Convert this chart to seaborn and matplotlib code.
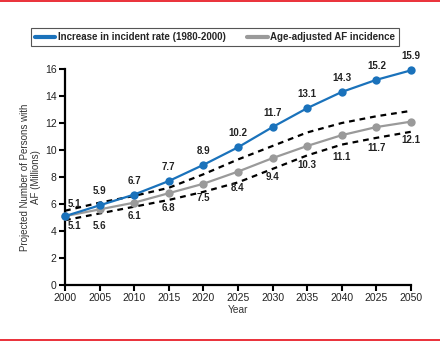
import matplotlib
matplotlib.use("Agg")
import matplotlib.pyplot as plt
from matplotlib.lines import Line2D
import seaborn as sns
import pandas as pd

years = [2000, 2005, 2010, 2015, 2020, 2025, 2030, 2035, 2040, 2045, 2050]
tick_labels = ["2000", "2005", "2010", "2015", "2020", "2025", "2030",
               "2035", "2040", "2025", "2050"]
increase_rate = [5.1, 5.9, 6.7, 7.7, 8.9, 10.2, 11.7, 13.1, 14.3, 15.2, 15.9]
age_adjusted = [5.1, 5.6, 6.1, 6.8, 7.5, 8.4, 9.4, 10.3, 11.1, 11.7, 12.1]
upper_bound = [5.5, 6.1, 6.6, 7.2, 8.2, 9.3, 10.3, 11.3, 12.0, 12.5, 12.9]
lower_bound = [4.8, 5.3, 5.8, 6.3, 6.9, 7.6, 8.6, 9.6, 10.4, 10.9, 11.35]

blue = "#1a72bb"
gray = "#9a9a9a"

sns.set_theme(style="white")
plt.rcParams["font.family"] = ["Liberation Sans", "DejaVu Sans"]

fig = plt.figure(figsize=(4.4, 3.41), dpi=100)
ax = fig.add_axes([65 / 440, 1 - 285 / 341, (411 - 65) / 440, (285 - 69) / 341])

df_b = pd.DataFrame({"Year": years, "v": upper_bound})
df_l = pd.DataFrame({"Year": years, "v": lower_bound})
for d in (df_b, df_l):
    sns.lineplot(data=d, x="Year", y="v", ax=ax, color="black", lw=1.6,
                 linestyle=(0, (2.6, 2.2)), zorder=2)

df_g = pd.DataFrame({"Year": years, "v": age_adjusted})
sns.lineplot(data=df_g, x="Year", y="v", ax=ax, color=gray, lw=1.6,
             marker="o", markersize=6, markeredgewidth=0, zorder=3, clip_on=False)
df_i = pd.DataFrame({"Year": years, "v": increase_rate})
sns.lineplot(data=df_i, x="Year", y="v", ax=ax, color=blue, lw=1.6,
             marker="o", markersize=6, markeredgewidth=0, zorder=4, clip_on=False)

ax.set_xlim(2000, 2050)
ax.set_ylim(0, 16)
ax.set_xticks(years)
ax.set_xticklabels(tick_labels)
ax.set_yticks(range(0, 17, 2))
ax.tick_params(axis="both", direction="out", length=4, width=1.5, colors="black",
               labelsize=7.5, pad=2, labelcolor="#222222")
ax.tick_params(axis="both", bottom=True, left=True)
for s in ("top", "right"):
    ax.spines[s].set_visible(False)
for s in ("left", "bottom"):
    ax.spines[s].set_color("black")
    ax.spines[s].set_linewidth(1.6)

ax.set_xlabel("Year", fontsize=7.3, color="#333333", labelpad=1)
ax.set_ylabel("Projected Number of Persons with\nAF (Millions)", fontsize=7,
              color="#333333", labelpad=3, linespacing=1.15)

# blue labels above
for i, (x, y) in enumerate(zip(years, increase_rate)):
    if i == 0:
        ax.annotate(f"{y}", (x, y), xytext=(2, 9), textcoords="offset points",
                    ha="left", va="center", fontsize=7, fontweight="bold", color="#222222")
    else:
        ax.annotate(f"{y}", (x, y), xytext=(0, 10), textcoords="offset points",
                    ha="center", va="center", fontsize=7, fontweight="bold", color="#222222")

gray_offsets = [-7, -12, -9.5, -11, -10, -11.5, -13.5, -14, -15.5, -15, -13]
for i, (x, y) in enumerate(zip(years, age_adjusted)):
    if i == 0:
        ax.annotate(f"{y}", (x, y), xytext=(2, gray_offsets[i]), textcoords="offset points",
                    ha="left", va="center", fontsize=7, fontweight="bold", color="#222222")
    else:
        ax.annotate(f"{y}", (x, y), xytext=(0, gray_offsets[i]), textcoords="offset points",
                    ha="center", va="center", fontsize=7, fontweight="bold", color="#222222")

handles = [Line2D([0], [0], color=blue, lw=3),
           Line2D([0], [0], color=gray, lw=3)]
leg = fig.legend(handles, ["Increase in incident rate (1980-2000)", "Age-adjusted AF incidence"],
                 loc="center", bbox_to_anchor=(215 / 440, 1 - 37 / 341), ncol=2,
                 frameon=True, fancybox=False, edgecolor="#555555", framealpha=1,
                 prop={"weight": "bold", "size": 7}, handlelength=2.1,
                 handletextpad=0.3, columnspacing=2.2, borderpad=0.4)
leg.get_frame().set_linewidth(0.8)

fig.add_artist(Line2D([0, 1], [1 - 1 / 341, 1 - 1 / 341], color="#e8202a", lw=1.3,
                      transform=fig.transFigure))
fig.add_artist(Line2D([0, 1], [1 - 339.5 / 341, 1 - 339.5 / 341], color="#e8202a", lw=1.3,
                      transform=fig.transFigure))

fig.savefig("out.png", dpi=100, facecolor="white")
